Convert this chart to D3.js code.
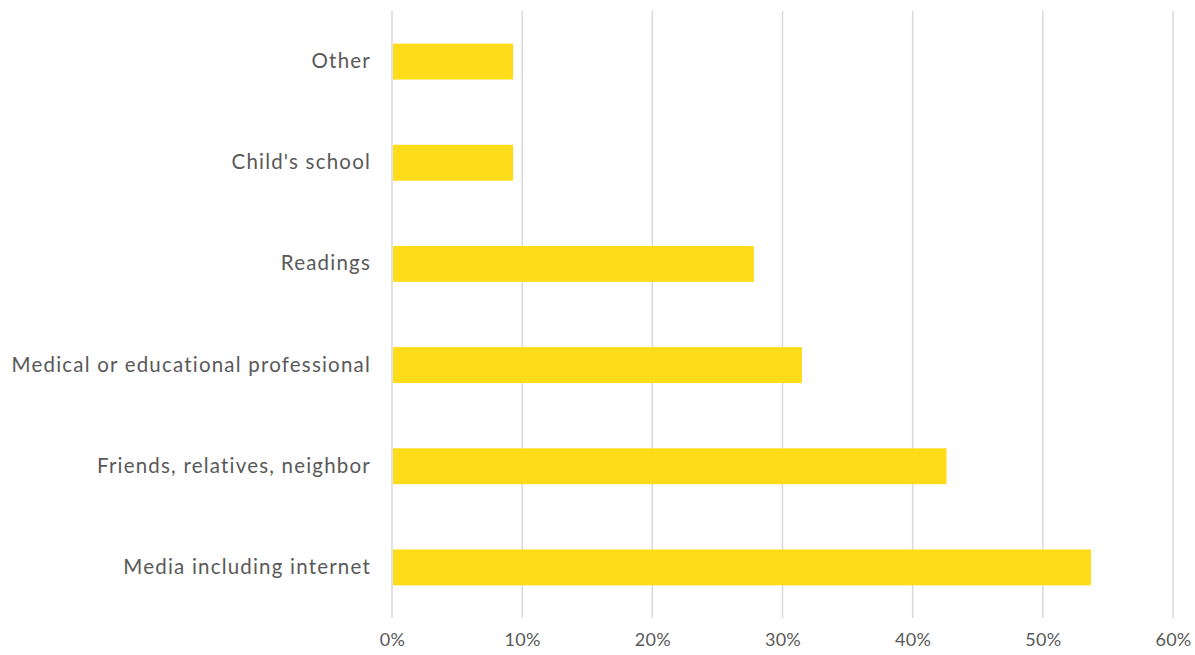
<!DOCTYPE html>
<html>
<head>
<meta charset="utf-8">
<script src="https://cdn.jsdelivr.net/npm/d3@7"></script>
<style>
  body { margin: 0; background: #fff; overflow: hidden; }
  svg { display: block; }
  svg text { font-family: Lato, "Open Sans", sans-serif; fill: #595959; }
</style>
</head>
<body>
<svg id="chart"></svg>
<script>
// データ（上から順）
const categories = [
    "Other", "Child's school", "Readings",
    "Medical or educational professional",
    "Friends, relatives, neighbor", "Media including internet"
];
const values = [0.093, 0.093, 0.278, 0.315, 0.426, 0.537];
const xTicks = [0, 0.1, 0.2, 0.3, 0.4, 0.5, 0.6];

const width = 1195, height = 655;
const margin = { top: 11, right: 22, bottom: 37, left: 392 };
const innerWidth = width - margin.left - margin.right;
const innerHeight = height - margin.top - margin.bottom;

const svg = d3.select("#chart")
    .attr("width", width)
    .attr("height", height);

const chart = svg.append("g")
    .attr("transform", `translate(${margin.left}, ${margin.top})`);

const xscale = d3.scaleLinear().domain([0, 0.6]).range([0, 781]);
const yscale = d3.scaleBand().domain(categories).range([0, innerHeight]).paddingInner(0.645).paddingOuter(0.3225);

// グリッド線
chart.append("g")
    .selectAll("line")
    .data(xTicks)
    .enter().append("line")
    .attr("x1", d => xscale(d))
    .attr("x2", d => xscale(d))
    .attr("y1", 0)
    .attr("y2", innerHeight)
    .attr("stroke", "#d9d9d9")
    .attr("stroke-width", 1.5);

// 棒
chart.selectAll("rect")
    .data(values)
    .enter().append("rect")
    .attr("x", xscale(0) + 1)
    .attr("y", (d, i) => yscale(categories[i]))
    .attr("width", d => xscale(d) - 1)
    .attr("height", yscale.bandwidth())
    .attr("fill", "#ffdc19");

// x軸ラベル
const xaxis = d3.axisBottom(xscale)
    .tickValues(xTicks)
    .tickFormat(d3.format(".0%"))
    .tickSize(0)
    .tickPadding(15);
const xg = chart.append("g")
    .attr("transform", `translate(0, ${innerHeight})`)
    .call(xaxis);
xg.select(".domain").remove();
xg.selectAll("text").attr("font-size", "18px").style("letter-spacing", "0.3px");
xg.attr("font-family", null);

// y軸ラベル
const yaxis = d3.axisLeft(yscale).tickSize(0).tickPadding(21);
const yg = chart.append("g").call(yaxis);
yg.select(".domain").remove();
yg.selectAll("text").attr("font-size", "20.5px").style("letter-spacing", "1.2px");
yg.attr("font-family", null);
</script>
</body>
</html>
